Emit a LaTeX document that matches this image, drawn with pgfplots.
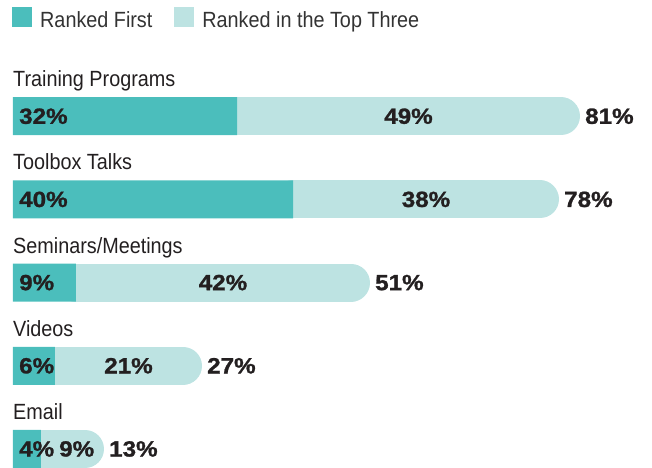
\documentclass[border=0pt]{standalone}
\usepackage{pgfplots}
\usepackage{pgfplotstable}
\pgfplotsset{compat=1.18}
\usepackage{fontspec}
\setmainfont{Liberation Sans}[FakeStretch=0.9]
\newfontfamily\numfont{Liberation Sans}[FakeStretch=1.1, BoldFeatures={FakeBold=1.2}]
\definecolor{darkc}{HTML}{4BBEBC}
\definecolor{lightc}{HTML}{BDE3E2}
\definecolor{txt}{HTML}{231F20}
\definecolor{legtxt}{HTML}{333333}
\tikzset{numlab/.style={font=\numfont\bfseries\fontsize{22}{26}\selectfont, text=txt, inner sep=0pt}}

\pgfplotstableread[col sep=comma]{
y,first,second,total,name
4,32,49,81,Training Programs
3,40,38,78,Toolbox Talks
2,9,42,51,Seminars/Meetings
1,6,21,27,Videos
0,4,9,13,Email
}\data

\begin{document}
\begin{tikzpicture}
\begin{axis}[
  scale only axis, width=652pt, height=466pt,
  xmin=-1.857, xmax=91.286,
  ymin=-0.2048, ymax=5.3976,
  axis line style={draw=none}, ticks=none,
  clip=false,
  lightbar/.style={draw=lightc, line width=38pt, line cap=round, shorten >=19pt, mark=none, forget plot},
  legend style={at={(0,1)}, anchor=north west, xshift=12pt, yshift=-7pt, draw=none, fill=none,
    legend columns=2, font=\fontsize{22}{26}\selectfont\color{legtxt},
    /tikz/every odd column/.append style={column sep=8pt},
    /tikz/every even column/.append style={column sep=22pt},
    inner sep=0pt, nodes={inner sep=0pt}},
  legend image code/.code={\fill[#1] (0pt,-7pt) rectangle (20pt,13pt);},
]
\addlegendimage{fill=darkc, draw=none}
\addlegendentry{Ranked First}
\addlegendimage{fill=lightc, draw=none}
\addlegendentry{Ranked in the Top Three}

% light (top three) segments with rounded ends
\addplot[lightbar] coordinates {(32,4) (81,4)};
\addplot[lightbar] coordinates {(40,3) (78,3)};
\addplot[lightbar] coordinates {(9,2) (51,2)};
\addplot[lightbar] coordinates {(6,1) (27,1)};
\addplot[lightbar] coordinates {(4,0) (13,0)};

% ranked first
\addplot[xbar, bar width=38pt, fill=darkc, draw=none, forget plot] table[x=first, y=y] {\data};

% category names
\addplot[draw=none, mark=none, forget plot, point meta=explicit symbolic,
  nodes near coords={\pgfplotspointmeta},
  every node near coord/.append style={anchor=base west, inner sep=0pt, yshift=29.5pt, font=\fontsize{22}{26}\selectfont, text=txt}]
  table[x expr=0, y=y, meta=name] {\data};

% first labels
\addplot[draw=none, mark=none, forget plot, point meta=explicit symbolic,
  nodes near coords={\pgfplotspointmeta\%},
  every node near coord/.append style={numlab, anchor=west, xshift=6pt}]
  table[x expr=0, y=y, meta=first] {\data};

% second labels (centred in the light part, kept clear of the first label)
\addplot[draw=none, mark=none, forget plot, point meta=explicit symbolic,
  nodes near coords={\pgfplotspointmeta\%},
  every node near coord/.append style={numlab, anchor=center}]
  table[x expr={max((\thisrow{first}+\thisrow{total})/2, \thisrow{first}+5.1)}, y=y, meta=second] {\data};

% totals
\addplot[draw=none, mark=none, forget plot, point meta=explicit symbolic,
  nodes near coords={\pgfplotspointmeta\%},
  every node near coord/.append style={numlab, anchor=west, xshift=5pt}]
  table[x=total, y=y, meta=total] {\data};
\end{axis}
\end{tikzpicture}
\end{document}
